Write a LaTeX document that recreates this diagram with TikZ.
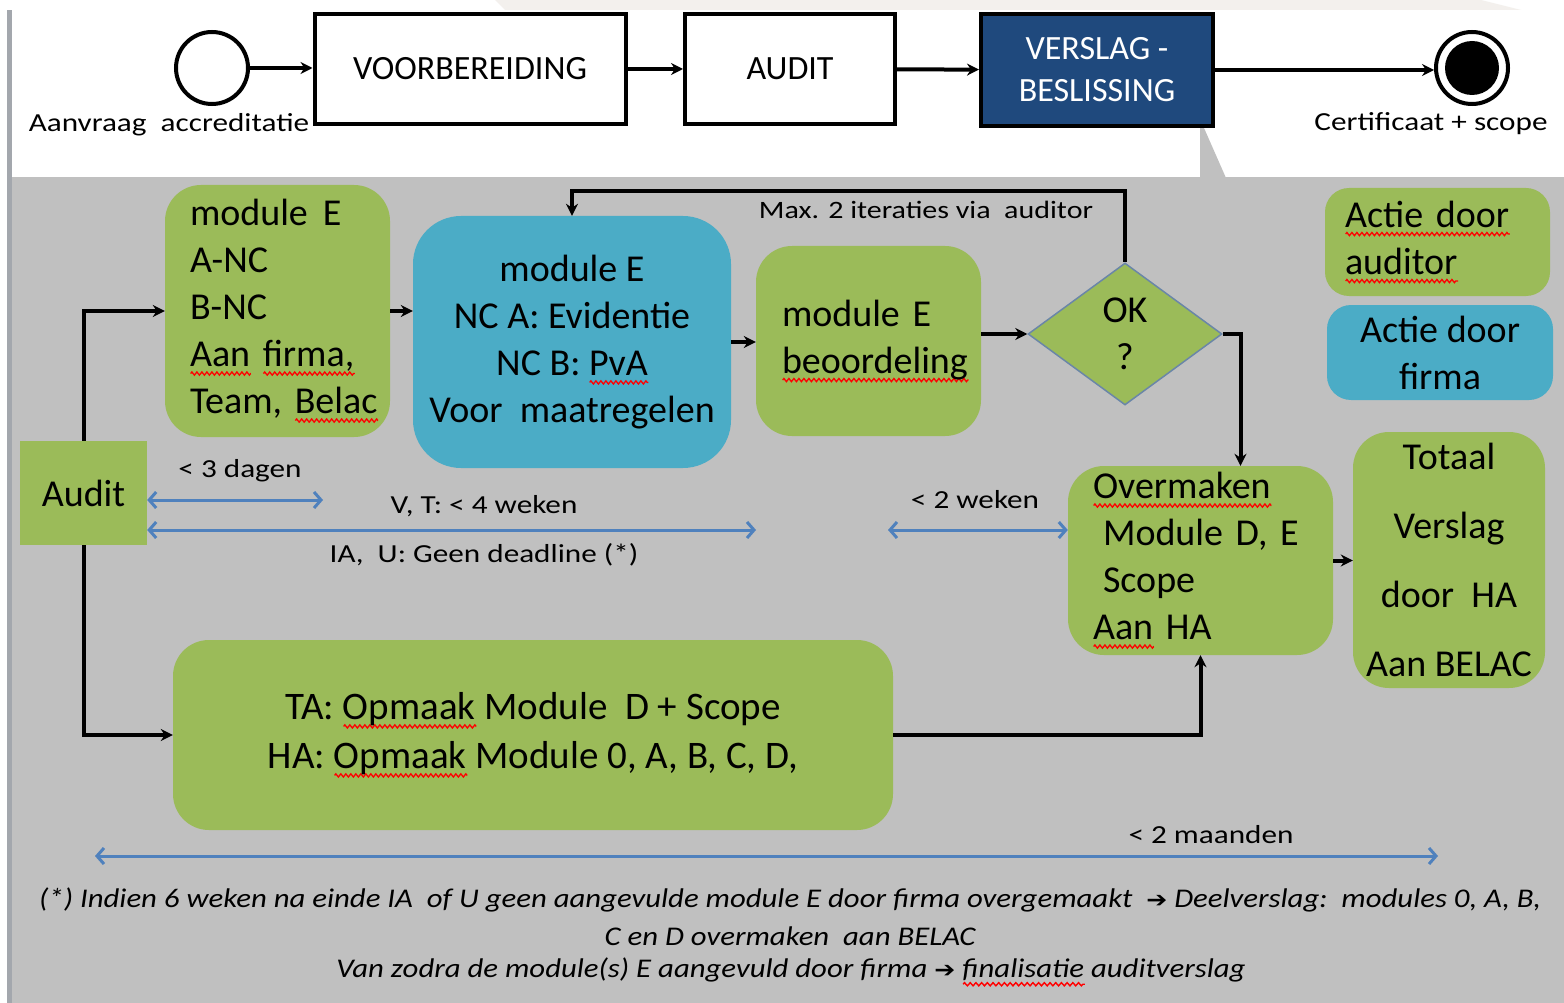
\documentclass[tikz,border=0pt]{standalone}
\usepackage{fontspec}
\usepackage{graphicx}
\setmainfont{Carlito}
\newfontfamily\symfont{DejaVu Sans}
\usetikzlibrary{shapes.geometric,arrows.meta,decorations.pathmorphing}

\definecolor{bggray}{HTML}{C0C0C0}
\definecolor{audgreen}{HTML}{9BBB59}
\definecolor{firmblue}{HTML}{4BACC6}
\definecolor{navy}{HTML}{1F497D}
\definecolor{spanblue}{HTML}{4F81BD}
\definecolor{edgegray}{HTML}{A3A7AD}
\definecolor{paper}{HTML}{F3F0ED}
\definecolor{diamondedge}{HTML}{6A86A8}

\newcommand\toptxt{\fontsize{34}{42}\selectfont}
\newcommand\boxtxt{\fontsize{38}{47}\selectfont}
\newcommand\widetxt{\fontsize{38}{69}\selectfont}
\newcommand\lbltxt{\fontsize{26}{32}\selectfont}
\newcommand\notetxt{\fontsize{27}{36}\selectfont\itshape}
% stretched small text
\newcommand\sx[1]{\scalebox{1.2}[1]{#1}}
% red spelling wave under a word
\newsavebox\sqbox
\newlength\sqw
\newcommand\sq[1]{\leavevmode\sbox\sqbox{#1}\setlength\sqw{\wd\sqbox}%
  \rlap{\tikz[baseline=0pt]\draw[red,sharp corners,line width=1.3pt,decorate,
    decoration={zigzag,amplitude=1.6pt,segment length=5pt}] (0pt,-7pt) -- (\sqw,-7pt);}%
  \usebox\sqbox}

\begin{document}
\begin{tikzpicture}[x=1pt,y=-1pt,>={Stealth[length=12pt,width=12pt]},
  box/.style={draw=black,line width=4pt,minimum height=110pt,inner sep=0pt,font=\toptxt},
  act/.style={rounded corners=36pt,inner sep=0pt,font=\boxtxt},
  auditor/.style={act,fill=audgreen},
  firma/.style={act,fill=firmblue},
  flow/.style={->,line width=4pt},
  span/.style={{Straight Barb[length=7pt,width=16pt]}-{Straight Barb[length=7pt,width=16pt]},draw=spanblue,line width=3pt},
  lbl/.style={font=\lbltxt,inner sep=0pt},
  note/.style={font=\notetxt,inner sep=0pt}]

% background
\useasboundingbox (0,0) rectangle (1564,1003);
\fill[white] (0,0) rectangle (1564,1003);
\fill[paper] (495,0) -- (1481,0) -- (1521,10) -- (505,10) -- cycle;
\fill[bggray] (12,177) rectangle (1564,1003);
\fill[bggray] (1200,128) -- (1204,128) -- (1226,178) -- (1200,178) -- cycle;
\fill[edgegray] (7,10) rectangle (12,1003);

% process bar
\node[circle,draw,line width=4pt,minimum size=72pt,inner sep=0pt] (start) at (212,68) {};
\node[lbl] (startlbl) at (169,125) {\sx{Aanvraag\ \ accreditatie}};
\node[box,minimum width=311pt] (prep) at (470,69) {VOORBEREIDING};
\node[box,minimum width=210pt] (audit) at (790,69) {AUDIT};
\node[box,minimum width=232pt,minimum height=112pt,fill=navy,text=white,align=center] (report) at (1097,70) {VERSLAG -\\BESLISSING};
\node[circle,draw,line width=4pt,minimum size=72pt,inner sep=0pt] (stop) at (1472,68) {};
\node[circle,fill=black,minimum size=54pt,inner sep=0pt] (stopdot) at (stop) {};
\node[lbl] (stoplbl) at (1431,124) {\sx{Certificaat\ +\ scope}};

\draw[flow] (start.east) -- (prep.west |- start.east);
\draw[flow] (prep) -- (audit);
\draw[flow] (audit) -- (report);
\draw[flow] (report.east) -- (report.east -| stop.west);

% audit detail
\node[fill=audgreen,minimum width=127pt,minimum height=104pt,inner sep=0pt,font=\boxtxt] (kick) at (83.5,493) {Audit};
\node[auditor,minimum width=225pt,minimum height=252pt,text width=175pt,align=left] (mod1) at (277.5,311)
  {module\hspace{15pt}E\\A-NC\\B-NC\\\mbox{\sq{Aan} \sq{firma,}}\\\mbox{Team, \sq{Belac}}};
\node[firma,rounded corners=48pt,minimum width=318pt,minimum height=252pt,align=center] (fix) at (572,342)
  {module E\\NC A: Evidentie\\NC B: \sq{PvA}\\Voor\ \ maatregelen};
\node[auditor,minimum width=225pt,minimum height=190pt,text width=173pt,align=left] (review) at (868.5,341)
  {module E\\\mbox{\sq{beoordeling}}};
\node[diamond,aspect=1.37,fill=audgreen,draw=diamondedge,line width=1.5pt,minimum width=194pt,minimum height=142pt,inner sep=0pt,align=center,font=\boxtxt] (ok) at (1125,334) {OK\\?};
\node[auditor,minimum width=265pt,minimum height=189pt,text width=215pt,align=left] (send) at (1200.5,560.5)
  {\sq{Overmaken}\\\hspace*{10pt}Module D, E\\\hspace*{10pt}Scope\\\sq{Aan} HA};
\node[auditor,minimum width=192pt,minimum height=256pt,align=center,font=\widetxt] (final) at (1449,560)
  {Totaal\\Verslag\\door\ \ HA\\Aan BELAC};
\node[auditor,minimum width=720pt,minimum height=190pt,align=center,font=\fontsize{39}{49}\selectfont] (draft) at (533,735)
  {TA: \sq{Opmaak} Module\ \ D + Scope\\HA: \sq{Opmaak} Module 0, A, B, C, D,};

% legend
\node[auditor,rounded corners=24pt,minimum width=225pt,minimum height=108pt,text width=185pt,align=left] (keyaud) at (1437.5,242)
  {\sq{Actie door}\\\sq{auditor}};
\node[firma,rounded corners=24pt,minimum width=226pt,minimum height=95pt,align=center] (keyfirm) at (1440,352.5)
  {Actie door\\firma};

\draw[flow] (kick.north) |- (mod1.west);
\draw[flow] (kick.south) |- (draft.west);
\draw[flow] (mod1.east) -- (mod1.east -| fix.west);
\draw[flow] (fix.east) -- (fix.east -| review.west);
\draw[flow] (review.east |- ok.west) -- (ok.west);
\draw[flow] (ok.north) -- ++(0,-71) -| (fix.north);
\node[lbl,font=\fontsize{25}{30}\selectfont] (loopnote) at (926,210) {\sx{Max. 2 iteraties via\ \ auditor}};
\draw[flow] (ok.east) -| ([xshift=40pt]send.north);
\draw[flow] (draft.east) -| (send.south);
\draw[flow] (send.east) -- (send.east -| final.west);

% deadlines
\coordinate (d3) at (323,500);
\draw[span] (kick.east |- d3) -- (d3);
\node[lbl] (d3lbl) at (240,471) {\sx{< 3 dagen}};
\coordinate (w4) at (756,530);
\draw[span] (kick.east |- w4) -- (w4);
\node[lbl] (w4lbl) at (484,506) {\sx{V, T: < 4 weken}};
\node[lbl] (iulbl) at (484,555) {\sx{IA,\ \ U: Geen deadline (*)}};
\coordinate (w2) at (888,530);
\draw[span] (w2) -- (w2 -| send.west);
\node[lbl] (w2lbl) at (975,500) {\sx{< 2 weken}};
\coordinate (m2a) at (95,856);
\coordinate (m2b) at (1438,856);
\draw[span] (m2a) -- (m2b);
\node[lbl] (m2lbl) at (1211,835) {\sx{< 2 maanden}};

% footnote
\node[note] (note1) at (790,900) {\scalebox{1.14}[1]{(*) Indien 6 weken na einde IA\ \ of U geen aangevulde module E door firma overgemaakt\ \ {\upshape\symfont\fontsize{22}{22}\selectfont ➔} Deelverslag:\ \ modules 0, A, B,}};
\node[note] (note2) at (790,936) {\scalebox{1.14}[1]{C en D overmaken\ \ aan BELAC}};
\node[note] (note3) at (791,972) {\scalebox{1.14}[1]{Van zodra de module(s) E aangevuld door firma {\upshape\symfont\fontsize{22}{22}\selectfont ➔} \sq{finalisatie} auditverslag}};
\end{tikzpicture}
\end{document}
